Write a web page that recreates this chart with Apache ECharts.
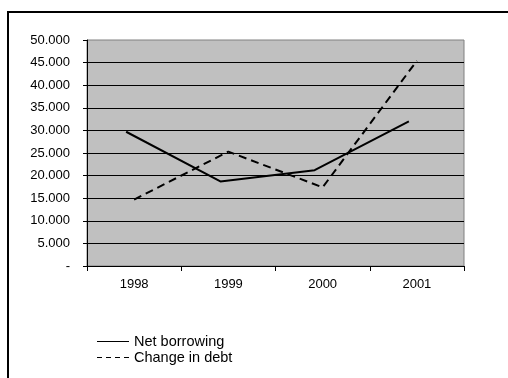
<!DOCTYPE html>
<html>
<head>
<meta charset="utf-8">
<script src="https://cdn.jsdelivr.net/npm/echarts@6/dist/echarts.min.js"></script>
<style>
  html, body { margin: 0; padding: 0; background: #fff; }
  #chart { width: 508px; height: 378px; }
</style>
</head>
<body>
<div id="chart"></div>
<script>
// Years on the category axis
const years = ['1998', '1999', '2000', '2001'];
// Series values
const netBorrowing = [29700, 18700, 21200, 32000];
const changeInDebt = [14700, 25300, 17400, 45400];
// Value axis range
const yMin = 0;
const yMax = 50000;
const yStep = 5000;

function fmtThousands(v) {
  if (v === 0) return '-';
  const s = String(Math.round(v));
  return s.replace(/\B(?=(\d{3})+(?!\d))/g, '.');
}

// Flat legend keys: a thin solid bar and a four-dash bar
const solidKey = 'path://M0,0h32v1h-32z';
const dashKey = 'path://M0,0h5v1h-5zM9,0h5v1h-5zM18,0h5v1h-5zM27,0h5v1h-5z';

const font = "'Liberation Sans', Arial, sans-serif";
const chart = echarts.init(document.getElementById('chart'), null, { renderer: 'canvas' });

chart.setOption({
  animation: false,
  backgroundColor: '#ffffff',
  textStyle: { fontFamily: font, color: '#000' },
  graphic: [{
    type: 'rect',
    shape: { x: 8, y: 12, width: 560, height: 420 },
    style: { fill: 'none', stroke: '#000', lineWidth: 2 },
    silent: true,
    z: 0
  }],
  grid: [
    { left: 87, right: 44, top: 40, bottom: 112, show: true,
      backgroundColor: '#c0c0c0', borderColor: '#808080', borderWidth: 1 },
    { left: 79, right: 52, top: 40, bottom: 112, show: false }
  ],
  xAxis: [
    {
      type: 'category', gridIndex: 0, data: years, boundaryGap: true,
      axisLine: { lineStyle: { color: '#000', width: 1 } },
      axisTick: { show: true, length: 5, lineStyle: { color: '#000' } },
      axisLabel: { color: '#000', fontSize: 13, fontFamily: font, margin: 12 },
      splitLine: { show: false }
    },
    {
      type: 'category', gridIndex: 1, data: years, boundaryGap: true, show: false
    }
  ],
  yAxis: [
    {
      type: 'value', gridIndex: 0, min: yMin, max: yMax, interval: yStep,
      axisLine: { show: true, lineStyle: { color: '#000', width: 1 } },
      axisTick: { show: true, length: 4, lineStyle: { color: '#000' } },
      axisLabel: { color: '#000', fontSize: 13, fontFamily: font, margin: 17,
                   formatter: fmtThousands },
      splitLine: { show: true, showMaxLine: false, lineStyle: { color: '#000', width: 1 } }
    },
    {
      type: 'value', gridIndex: 1, min: yMin, max: yMax, interval: yStep, show: false,
      splitLine: { show: false }
    }
  ],
  legend: {
    orient: 'vertical',
    left: 92,
    top: 329,
    itemWidth: 32,
    itemHeight: 1,
    itemGap: 1,
    textStyle: { color: '#000', fontSize: 14.5, fontFamily: font },
    data: [
      { name: 'Net borrowing', icon: solidKey, itemStyle: { color: '#000' } },
      { name: 'Change in debt', icon: dashKey, itemStyle: { color: '#000' } }
    ]
  },
  series: [
    {
      name: 'Net borrowing', type: 'line', xAxisIndex: 1, yAxisIndex: 1,
      data: netBorrowing, symbol: 'none',
      lineStyle: { color: '#000', width: 2, type: 'solid' },
      itemStyle: { color: '#000' }, z: 3
    },
    {
      name: 'Change in debt', type: 'line', xAxisIndex: 0, yAxisIndex: 0,
      data: changeInDebt, symbol: 'none',
      lineStyle: { color: '#000', width: 2, type: [8, 5] },
      itemStyle: { color: '#000' }, z: 3
    }
  ]
});
</script>
</body>
</html>
